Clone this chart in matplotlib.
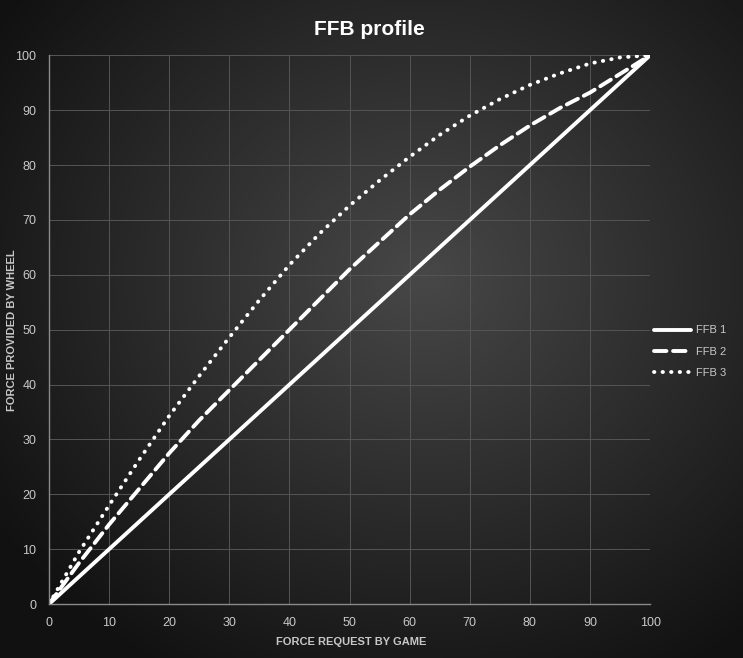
import matplotlib
matplotlib.use("Agg")
import matplotlib.pyplot as plt
import numpy as np

# data
force_game = [0, 5, 10, 15, 20, 25, 30, 35, 40, 45, 50, 55, 60, 65, 70, 75, 80, 85, 90, 95, 100]
ffb1 = [0, 5, 10, 15, 20, 25, 30, 35, 40, 45, 50, 55, 60, 65, 70, 75, 80, 85, 90, 95, 100]
ffb2 = [0, 7.5, 14.5, 21, 27.5, 33.5, 39, 44.5, 50, 55.5, 61, 66, 71, 75.5, 79.7, 83.6, 87.2, 90.4, 93.2, 96.6, 100]
ffb3 = [0, 9.5, 18, 26.3, 34.3, 41.6, 48.6, 55.4, 61.8, 67.5, 72.6, 77.2, 81.5, 85.5, 89, 92, 94.6, 96.7, 98.5, 99.6, 100]
series_names = ["FFB 1", "FFB 2", "FFB 3"]
ticks = list(range(0, 101, 10))

plt.rcParams['font.family'] = ['Liberation Sans', 'DejaVu Sans']

fig = plt.figure(figsize=(7.43, 6.58), dpi=100)

# radial dark background
bg = fig.add_axes([0, 0, 1, 1], zorder=-10)
yy, xx = np.mgrid[0:1:400j, 0:1:450j]
r = np.sqrt(((xx - 0.57) / 0.75) ** 2 + ((yy - 0.42) / 0.75) ** 2)
shade = np.clip(0.28 - 0.23 * r, 0.07, 1)
bg.imshow(np.dstack([shade, shade, shade]), extent=[0, 1, 0, 1], aspect='auto', origin='upper')
bg.axis('off')

ax = fig.add_axes([0.066, 0.082, 0.809, 0.834])
ax.set_facecolor('none')

lw = 2.8
ax.plot(force_game, ffb1, color='white', lw=lw, solid_capstyle='round', label=series_names[0])
ax.plot(force_game, ffb2, color='white', lw=lw, dashes=(3.2, 1.7), dash_capstyle='round', label=series_names[1])
ax.plot(force_game, ffb3, color='white', lw=lw, dashes=(0.1, 2.1), dash_capstyle='round', label=series_names[2])

ax.set_xlim(0, 100)
ax.set_ylim(0, 100)
ax.set_xticks(ticks)
ax.set_yticks(ticks)
ax.grid(True, color='#555555', lw=0.7)
ax.set_axisbelow(True)
for side in ['top', 'right']:
    ax.spines[side].set_visible(False)
for side in ['left', 'bottom']:
    ax.spines[side].set_color('#8a8a8a')
    ax.spines[side].set_linewidth(1.0)
ax.tick_params(length=0, colors='#c8c8c8', labelsize=9, pad=9)

fig.text(0.472, 0.025, 'FORCE REQUEST BY GAME', color='#c8c8c8', fontsize=8,
         fontweight='bold', ha='center', va='center')
fig.text(0.016, 0.498, 'FORCE PROVIDED BY WHEEL', color='#c8c8c8', fontsize=8,
         fontweight='bold', ha='center', va='center', rotation=90)

fig.text(0.497, 0.955, 'FFB profile', color='white', fontsize=15, fontweight='bold',
         ha='center', va='center')

leg = ax.legend(loc='center left', bbox_to_anchor=(0.998, 0.46), frameon=False, borderpad=0,
                handlelength=3.3, labelspacing=1.0, handletextpad=0.4, fontsize=8)
for t in leg.get_texts():
    t.set_color('#c8c8c8')

fig.savefig('out.png', dpi=100)
